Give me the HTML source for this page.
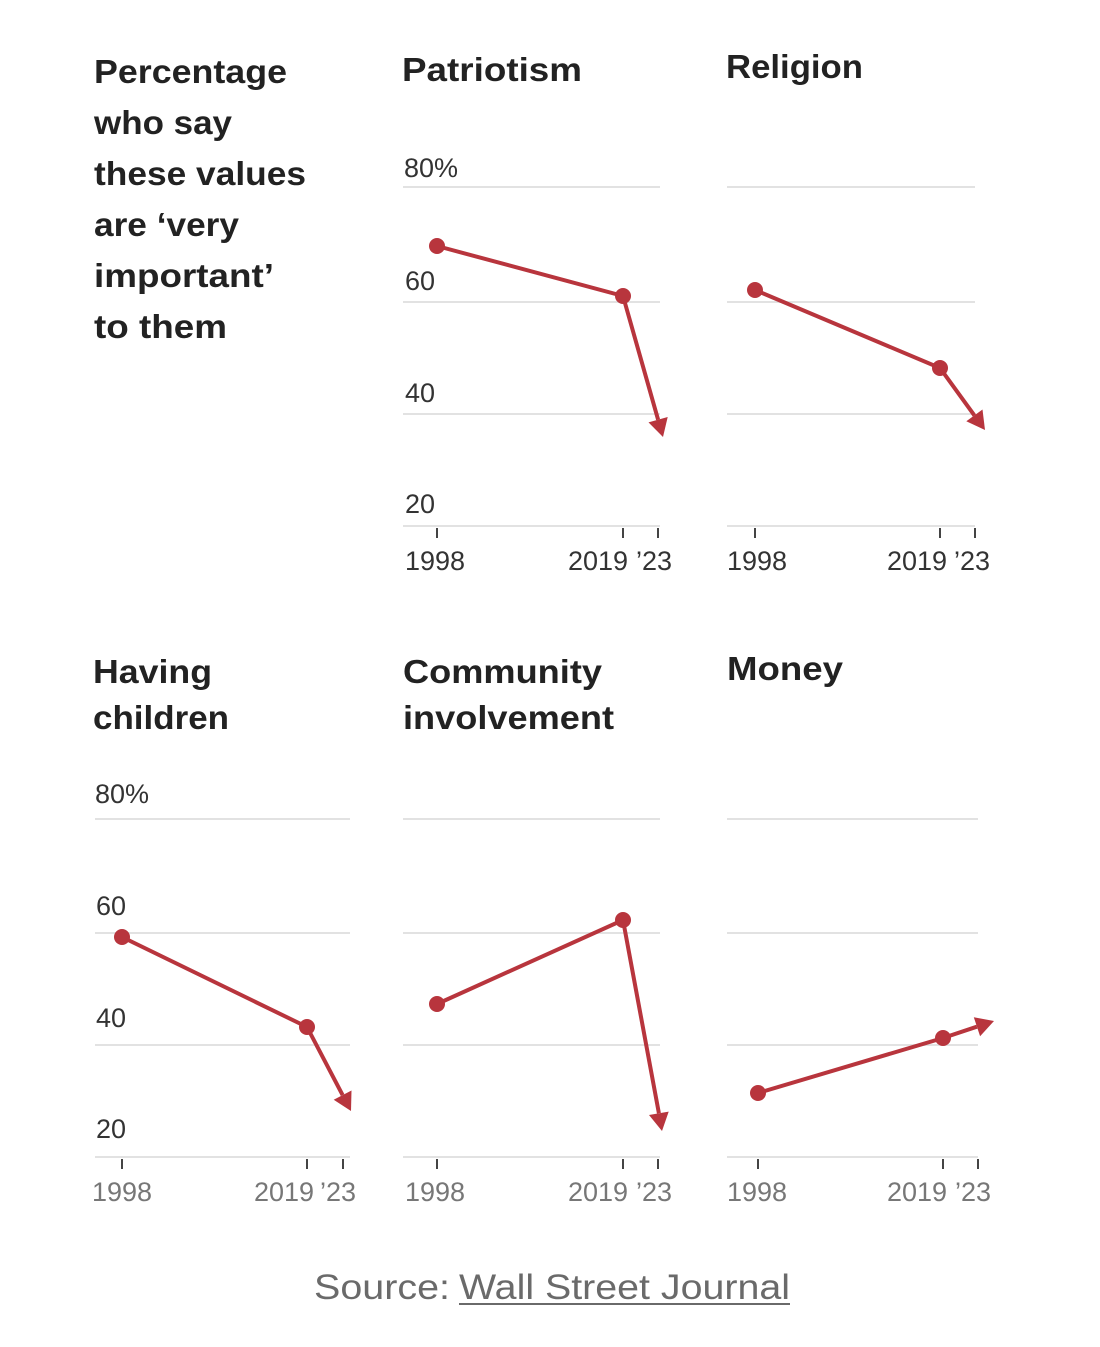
<!DOCTYPE html>
<html><head><style>
html,body{margin:0;padding:0;background:#fff;}
svg{display:block;}
.t{font-family:"Liberation Sans",sans-serif;font-weight:bold;font-size:33px;fill:#222;}
.a{font-family:"Liberation Sans",sans-serif;font-size:27px;fill:#333;}
.b{font-family:"Liberation Sans",sans-serif;font-size:27px;fill:#777;}
.g{stroke:#e2e2e2;stroke-width:2;}
.k{stroke:#444;stroke-width:2;}
.l{stroke:#b8353d;stroke-width:4;fill:none;}
.d{fill:#b8353d;}
</style></head><body>
<svg width="1100" height="1347" viewBox="0 0 1100 1347">
<g class="t">
<text x="94" y="83" textLength="193" lengthAdjust="spacingAndGlyphs">Percentage</text><text x="94" y="134" textLength="138" lengthAdjust="spacingAndGlyphs">who say</text><text x="94" y="185" textLength="212" lengthAdjust="spacingAndGlyphs">these values</text><text x="94" y="236" textLength="145" lengthAdjust="spacingAndGlyphs">are ‘very</text><text x="94" y="287" textLength="180" lengthAdjust="spacingAndGlyphs">important’</text><text x="94" y="338" textLength="133" lengthAdjust="spacingAndGlyphs">to them</text>
<text x="402" y="81" textLength="180" lengthAdjust="spacingAndGlyphs">Patriotism</text><text x="726" y="78" textLength="137" lengthAdjust="spacingAndGlyphs">Religion</text>
<text x="93" y="683" textLength="119" lengthAdjust="spacingAndGlyphs">Having</text><text x="93" y="729" textLength="136" lengthAdjust="spacingAndGlyphs">children</text>
<text x="403" y="683" textLength="199" lengthAdjust="spacingAndGlyphs">Community</text><text x="403" y="729" textLength="211" lengthAdjust="spacingAndGlyphs">involvement</text>
<text x="727" y="680" textLength="116" lengthAdjust="spacingAndGlyphs">Money</text>
</g>
<g class="g">
<line x1="403" x2="660" y1="187" y2="187"/><line x1="403" x2="660" y1="302" y2="302"/><line x1="403" x2="660" y1="414" y2="414"/><line x1="403" x2="660" y1="526" y2="526"/>
<line x1="727" x2="975" y1="187" y2="187"/><line x1="727" x2="975" y1="302" y2="302"/><line x1="727" x2="975" y1="414" y2="414"/><line x1="727" x2="975" y1="526" y2="526"/>
<line x1="95" x2="350" y1="819" y2="819"/><line x1="95" x2="350" y1="933" y2="933"/><line x1="95" x2="350" y1="1045" y2="1045"/><line x1="95" x2="350" y1="1157" y2="1157"/>
<line x1="403" x2="660" y1="819" y2="819"/><line x1="403" x2="660" y1="933" y2="933"/><line x1="403" x2="660" y1="1045" y2="1045"/><line x1="403" x2="660" y1="1157" y2="1157"/>
<line x1="727" x2="978" y1="819" y2="819"/><line x1="727" x2="978" y1="933" y2="933"/><line x1="727" x2="978" y1="1045" y2="1045"/><line x1="727" x2="978" y1="1157" y2="1157"/>
</g>
<g class="a">
<text x="404" y="177">80%</text><text x="405" y="290">60</text><text x="405" y="402">40</text><text x="405" y="513">20</text>
<text x="95" y="803">80%</text><text x="96" y="915">60</text><text x="96" y="1027">40</text><text x="96" y="1138">20</text>
<text x="405" y="570">1998</text><text x="568" y="570">2019</text><text x="636" y="570">’23</text>
<text x="727" y="570">1998</text><text x="887" y="570">2019</text><text x="954" y="570">’23</text>
</g>
<g class="b">
<text x="92" y="1201">1998</text><text x="254" y="1201">2019</text><text x="320" y="1201">’23</text>
<text x="405" y="1201">1998</text><text x="568" y="1201">2019</text><text x="636" y="1201">’23</text>
<text x="727" y="1201">1998</text><text x="887" y="1201">2019</text><text x="955" y="1201">’23</text>
</g>
<g class="k">
<line x1="437" x2="437" y1="528" y2="538"/><line x1="623" x2="623" y1="528" y2="538"/><line x1="658" x2="658" y1="528" y2="538"/>
<line x1="755" x2="755" y1="528" y2="538"/><line x1="940" x2="940" y1="528" y2="538"/><line x1="975" x2="975" y1="528" y2="538"/>
<line x1="122" x2="122" y1="1159" y2="1169"/><line x1="307" x2="307" y1="1159" y2="1169"/><line x1="343" x2="343" y1="1159" y2="1169"/>
<line x1="437" x2="437" y1="1159" y2="1169"/><line x1="623" x2="623" y1="1159" y2="1169"/><line x1="658" x2="658" y1="1159" y2="1169"/>
<line x1="758" x2="758" y1="1159" y2="1169"/><line x1="943" x2="943" y1="1159" y2="1169"/><line x1="978" x2="978" y1="1159" y2="1169"/>
</g>
<g class="l">
<polyline points="437,246 623,296 658.1,419.7"/>
<polyline points="755,290 940,368 974.4,415.4"/>
<polyline points="122,937 307,1027 342.6,1095.1"/>
<polyline points="437,1004 623,920 658.9,1113.3"/>
<polyline points="758,1093 943,1038 976.9,1026.7"/>
</g>
<g class="d">
<polygon points="663,437 648.5,422.4 667.7,417.0"/>
<polygon points="985,430 966.3,421.3 982.5,409.5"/>
<polygon points="351,1111 333.7,1099.7 351.5,1090.5"/>
<polygon points="662,1131 649.0,1115.0 668.7,1111.6"/>
<polygon points="994,1021 980.1,1036.2 973.8,1017.2"/>
<circle cx="437" cy="246" r="8"/><circle cx="623" cy="296" r="8"/>
<circle cx="755" cy="290" r="8"/><circle cx="940" cy="368" r="8"/>
<circle cx="122" cy="937" r="8"/><circle cx="307" cy="1027" r="8"/>
<circle cx="437" cy="1004" r="8"/><circle cx="623" cy="920" r="8"/>
<circle cx="758" cy="1093" r="8"/><circle cx="943" cy="1038" r="8"/>
</g>
<text x="314" y="1299" textLength="136" lengthAdjust="spacingAndGlyphs" style="font-family:'Liberation Sans',sans-serif;font-size:35px;fill:#6a6a6a">Source:</text>
<text x="459" y="1299" textLength="331" lengthAdjust="spacingAndGlyphs" style="font-family:'Liberation Sans',sans-serif;font-size:35px;fill:#6a6a6a">Wall Street Journal</text>
<line x1="459" x2="790" y1="1304" y2="1304" stroke="#6a6a6a" stroke-width="2"/>
</svg>
</body></html>
